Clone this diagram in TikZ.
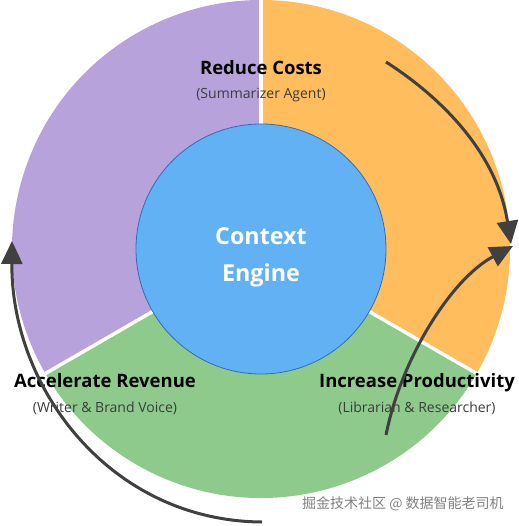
\documentclass[tikz,border=0pt]{standalone}
\usepackage{fontspec}
\setmainfont{Open Sans}
\newfontfamily\cjk{Noto Sans CJK SC}
\usetikzlibrary{arrows.meta}
\definecolor{costs}{HTML}{FFBD5E}
\definecolor{revenue}{HTML}{8ECA8C}
\definecolor{reduce}{HTML}{B7A2DB}
\definecolor{engine}{HTML}{62B1F4}
\definecolor{rim}{HTML}{2F6DB5}
\definecolor{flow}{HTML}{404040}
\definecolor{note}{HTML}{3C3C3C}
\tikzset{
  title/.style={text=black, text height=13pt, text depth=4pt, font=\fontsize{18.5}{22}\selectfont\bfseries},
  sub/.style={text=note, text height=10pt, text depth=3pt, font=\fontsize{14}{17}\selectfont},
  sep/.style={line width=3.5pt, draw=white},
  flowLine/.style={line width=3pt, draw=flow, -{Triangle[length=23pt,width=21pt]}},
  core/.style={circle, minimum size=250pt, fill=engine, draw=rim, line width=0.8pt},
  coreText/.style={text=white, align=center, font=\fontsize{23.3}{37}\selectfont\bfseries}
}
\begin{document}
\begin{tikzpicture}[x=1pt,y=1pt]
\useasboundingbox (-261,-277) rectangle (257,249);
\fill[costs] (0,0) -- (90:249) arc[start angle=90,end angle=-30,radius=249] -- cycle;
\fill[revenue] (0,0) -- (-30:249) arc[start angle=-30,end angle=-150,radius=249] -- cycle;
\fill[reduce] (0,0) -- (210:249) arc[start angle=210,end angle=90,radius=249] -- cycle;
\draw[sep] (0,0) -- (90:249);
\draw[sep] (0,0) -- (-30:249);
\draw[sep] (0,0) -- (210:249);
\node[core] (engine) at (0,0) {};
\node[coreText] (engineText) at (0,-8) {Context\\Engine};

\node[title] (costs) at (0,179) {Reduce Costs};
\node[sub] (costsSub) at (0,154) {(Summarizer Agent)};
\node[title] (revenue) at (-156,-134) {Accelerate Revenue};
\node[sub] (revenueSub) at (-156,-160) {(Writer \& Brand Voice)};
\node[title] (productivity) at (156,-134) {Increase Productivity};
\node[sub] (productivitySub) at (156,-160) {(Librarian \& Researcher)};

\coordinate (a1) at (125,187);
\coordinate (a2) at (250,5);
\coordinate (b1) at (125,-186);
\coordinate (b2) at (252,3);
\coordinate (c1) at (1,-273);
\coordinate (c2) at (-249,8);
\draw[flowLine] (a1) .. controls (175,155) and (235,100) .. (a2);
\draw[flowLine] (b1) .. controls (140,-110) and (190,-30) .. (b2);
\draw[flowLine] (c1) .. controls (-150,-272) and (-250,-140) .. (c2);

\node[text=gray, font=\cjk\fontsize{14}{16}\selectfont] (mark) at (142,-255) {掘金技术社区 @ 数据智能老司机};
\end{tikzpicture}
\end{document}
